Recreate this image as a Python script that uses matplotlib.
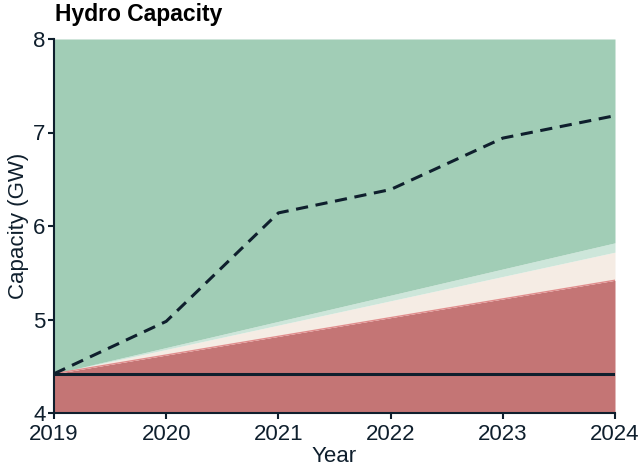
import matplotlib
matplotlib.use("Agg")
import matplotlib.pyplot as plt

plt.rcParams['font.family'] = ['Liberation Sans', 'DejaVu Sans']

years = [2019, 2020, 2021, 2022, 2023, 2024]
base_line = [4.42, 4.42, 4.42, 4.42, 4.42, 4.42]
red_top = [4.42, 4.62, 4.82, 5.02, 5.22, 5.42]
cream_top = [4.42, 4.68, 4.94, 5.20, 5.46, 5.72]
lgreen_top = [4.42, 4.70, 4.98, 5.26, 5.54, 5.82]
dashed = [4.42, 4.98, 6.14, 6.39, 6.94, 7.18]
ymin, ymax = 4, 8

txt = '#0f1f2d'
fig = plt.figure(figsize=(6.42, 4.70), dpi=100)
ax = fig.add_axes([54/642, 57/470, (615-54)/642, (413-39)/470])

ax.fill_between(years, ymin, red_top, color='#C47575', lw=0)
ax.plot(years, red_top, color='#E08C8C', lw=1)
ax.fill_between(years, red_top, cream_top, color='#F5ECE4', lw=0)
ax.fill_between(years, cream_top, lgreen_top, color='#CDE6DA', lw=0)
ax.fill_between(years, lgreen_top, ymax, color='#A1CDB6', lw=0)
ax.plot(years, base_line, color=txt, lw=2.2)
ax.plot(years, dashed, color=txt, lw=2.2, dashes=(4, 2.5))

ax.set_xlim(2019, 2024)
ax.set_ylim(ymin, ymax)
ax.set_xticks(years)
ax.set_yticks([4, 5, 6, 7, 8])
for s in ['top', 'right']:
    ax.spines[s].set_visible(False)
for s in ['left', 'bottom']:
    ax.spines[s].set_color(txt)
    ax.spines[s].set_linewidth(1.5)
ax.tick_params(colors=txt, labelsize=16, width=1.5, length=4)
ax.tick_params(axis='x', pad=4)
ax.tick_params(axis='y', pad=2)
ax.set_xlabel('Year', fontsize=16, color=txt, labelpad=1)
ax.set_ylabel('Capacity (GW)', fontsize=16, color=txt, labelpad=3)
fig.text(55/642, 1 - 15/470, 'Hydro Capacity', fontsize=16.5, fontweight='bold',
         color='black', va='center', ha='left')

fig.savefig('out.png', dpi=100)
